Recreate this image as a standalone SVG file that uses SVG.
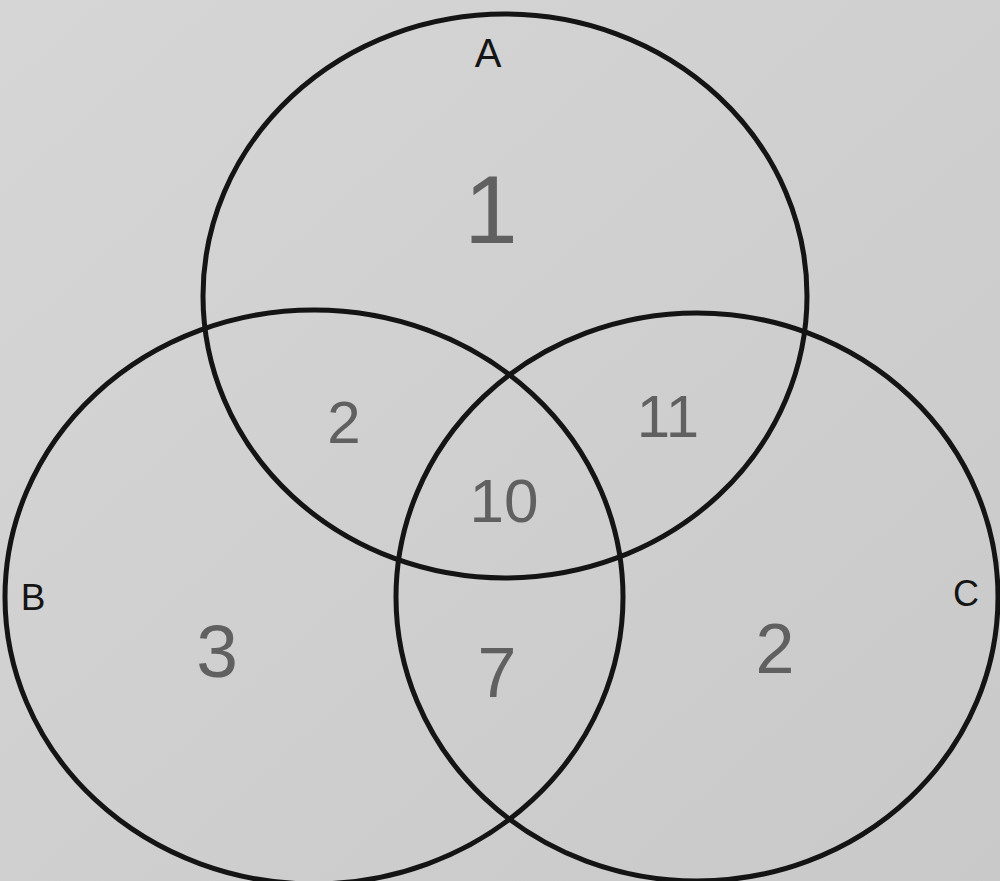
<svg xmlns="http://www.w3.org/2000/svg" width="1000" height="881" viewBox="0 0 1000 881">
  <defs>
    <linearGradient id="bg" x1="0" y1="0" x2="1" y2="1">
      <stop offset="0" stop-color="#d6d6d6"/>
      <stop offset="1" stop-color="#c9c9c9"/>
    </linearGradient>
    <style>
      .set { fill: none; stroke: #141414; stroke-width: 5; }
      .lbl { font-family: "Liberation Sans", "DejaVu Sans", sans-serif; fill: #151515; text-anchor: middle; }
      .num { font-family: "Liberation Sans", "DejaVu Sans", sans-serif; fill: #606060; text-anchor: middle; }
    </style>
  </defs>
  <rect x="0" y="0" width="1000" height="881" fill="url(#bg)"/>
  <g id="set-A">
    <ellipse class="set" cx="505" cy="296" rx="302" ry="282"/>
    <text class="lbl" x="488" y="67" font-size="40">A</text>
  </g>
  <g id="set-B">
    <ellipse class="set" cx="314" cy="597" rx="309" ry="287"/>
    <text class="lbl" x="33" y="610" font-size="37">B</text>
  </g>
  <g id="set-C">
    <ellipse class="set" cx="697" cy="597" rx="301" ry="284"/>
    <text class="lbl" x="966" y="606" font-size="36">C</text>
  </g>
  <g id="regions">
    <text class="num" x="491" y="243" font-size="96">1</text>
    <text class="num" x="344" y="443" font-size="60">2</text>
    <text class="num" x="668" y="437" font-size="60">11</text>
    <text class="num" x="504" y="522" font-size="62">10</text>
    <text class="num" x="217" y="677" font-size="75">3</text>
    <text class="num" x="497" y="697" font-size="70">7</text>
    <text class="num" x="775" y="673" font-size="70">2</text>
  </g>
  <g id="connectors"/>
</svg>
